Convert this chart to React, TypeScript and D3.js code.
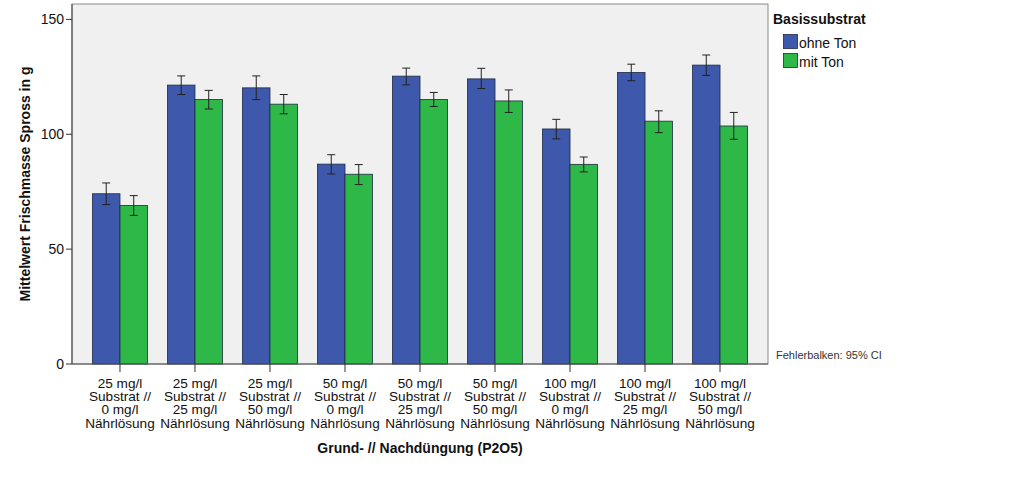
import React from "react";
import * as d3 from "d3";

const categories = [
  ["25 mg/l", "Substrat //", "0 mg/l", "Nährlösung"],
  ["25 mg/l", "Substrat //", "25 mg/l", "Nährlösung"],
  ["25 mg/l", "Substrat //", "50 mg/l", "Nährlösung"],
  ["50 mg/l", "Substrat //", "0 mg/l", "Nährlösung"],
  ["50 mg/l", "Substrat //", "25 mg/l", "Nährlösung"],
  ["50 mg/l", "Substrat //", "50 mg/l", "Nährlösung"],
  ["100 mg/l", "Substrat //", "0 mg/l", "Nährlösung"],
  ["100 mg/l", "Substrat //", "25 mg/l", "Nährlösung"],
  ["100 mg/l", "Substrat //", "50 mg/l", "Nährlösung"],
];
const seriesNames = ["ohne Ton", "mit Ton"];
const seriesColors = ["#3E58AC", "#2EB848"];
const meanOhne = [74.1, 121.4, 120.2, 87.0, 125.3, 124.1, 102.3, 126.9, 130.1];
const lowOhne = [69.4, 117.3, 115.1, 82.7, 121.5, 119.9, 98.0, 123.3, 125.6];
const highOhne = [78.8, 125.4, 125.4, 91.1, 128.8, 128.7, 106.5, 130.5, 134.5];
const meanMit = [69.0, 115.1, 113.1, 82.6, 115.1, 114.5, 86.9, 105.7, 103.6];
const lowMit = [64.7, 111.0, 108.9, 78.1, 112.1, 109.5, 83.6, 100.7, 97.8];
const highMit = [73.3, 119.1, 117.3, 86.8, 118.2, 119.3, 90.1, 110.2, 109.5];
const yTicks = [0, 50, 100, 150];

export default function App() {
  const W = 1024, H = 486;
  const left = 72, right = 768, top = 4, bottom = 364;
  const x = d3.scaleBand<number>().domain(d3.range(categories.length)).range([left, right]).paddingInner(0.2667).paddingOuter(0.273);
  const xs = d3.scaleBand<number>().domain([0, 1]).range([0, x.bandwidth()]);
  const y = d3.scaleLinear().domain([0, 156.7]).range([bottom, top]);
  const means = [meanOhne, meanMit];
  const lows = [lowOhne, lowMit];
  const highs = [highOhne, highMit];
  const font = "'Liberation Sans', Arial, sans-serif";
  return (
    <svg width={W} height={H} style={{ position: "absolute", left: 0, top: 0 }} fontFamily={font}>
      <rect x={0} y={0} width={W} height={H} fill="#fff" />
      <rect x={left} y={top} width={right - left} height={bottom - top} fill="#F0F0F0" stroke="#8a8a8a" strokeWidth={1} />
      {categories.map((c, i) =>
        [0, 1].map((s) => {
          const bx = (x(i) as number) + (xs(s) as number);
          const bw = xs.bandwidth();
          const cx = bx + bw / 2;
          return (
            <g key={`${i}-${s}`}>
              <rect x={bx} y={y(means[s][i])} width={bw} height={bottom - y(means[s][i])} fill={seriesColors[s]} stroke="#1e2a44" strokeWidth={0.8} />
              <line x1={cx} x2={cx} y1={y(lows[s][i])} y2={y(highs[s][i])} stroke="#222" strokeWidth={1} />
              <line x1={cx - 4} x2={cx + 4} y1={y(lows[s][i])} y2={y(lows[s][i])} stroke="#222" strokeWidth={1} />
              <line x1={cx - 4} x2={cx + 4} y1={y(highs[s][i])} y2={y(highs[s][i])} stroke="#222" strokeWidth={1} />
            </g>
          );
        })
      )}
      <line x1={left} x2={left} y1={top} y2={bottom} stroke="#555" strokeWidth={1.2} />
      <line x1={left} x2={right} y1={bottom} y2={bottom} stroke="#555" strokeWidth={1.2} />
      {yTicks.map((t) => (
        <g key={t}>
          <line x1={left - 6} x2={left} y1={y(t)} y2={y(t)} stroke="#333" />
          <text x={left - 8} y={y(t)} dy="0.35em" textAnchor="end" fontSize={14} fill="#111">{t}</text>
        </g>
      ))}
      {categories.map((c, i) => {
        const cx = (x(i) as number) + x.bandwidth() / 2;
        return (
          <g key={i}>
            <line x1={cx} x2={cx} y1={bottom} y2={bottom + 8} stroke="#333" />
            {c.map((l, k) => (
              <text key={k} x={cx} y={387.5 + k * 13.4} textAnchor="middle" fontSize={13.6} fill="#111">{l}</text>
            ))}
          </g>
        );
      })}
      <text x={(left + right) / 2} y={453} textAnchor="middle" fontSize={14} fontWeight="bold" fill="#111">Grund- // Nachdüngung (P2O5)</text>
      <text transform={`translate(30,${(top + bottom) / 2}) rotate(-90)`} textAnchor="middle" fontSize={14} fontWeight="bold" fill="#111">Mittelwert Frischmasse Spross in g</text>
      <text x={773} y={24} fontSize={14} fontWeight="bold" fill="#111">Basissubstrat</text>
      {seriesNames.map((n, s) => (
        <g key={n}>
          <rect x={783.5} y={34.5 + s * 19} width={14} height={14} fill={seriesColors[s]} stroke="#1e2a44" strokeWidth={0.8} />
          <text x={799} y={48 + s * 19} fontSize={14} fill="#111">{n}</text>
        </g>
      ))}
      <text x={776} y={359} fontSize={11} fill="#333">Fehlerbalken: 95% CI</text>
    </svg>
  );
}
